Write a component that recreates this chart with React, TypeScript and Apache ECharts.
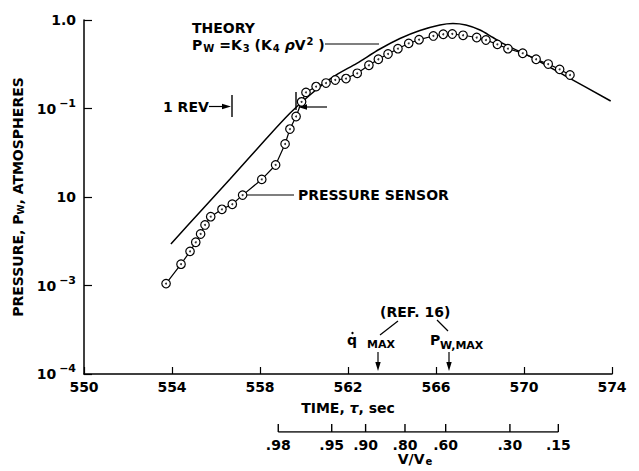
import React, { useEffect, useRef } from "react";
import * as echarts from "echarts";

const FONT = '"DejaVu Sans", "Liberation Sans", sans-serif';

// Pressure sensor measurements (time s, pressure atm)
const sensorTime = [553.73, 554.41, 554.82, 555.08, 555.3, 555.5, 555.76, 556.27, 556.74, 557.21, 558.08, 558.71, 559.14, 559.36, 559.64, 559.89, 560.09, 560.55, 561.0, 561.42, 561.91, 562.42, 562.95, 563.38, 563.82, 564.27, 564.76, 565.23, 565.88, 566.33, 566.74, 567.23, 567.85, 568.27, 568.79, 569.27, 569.94, 570.55, 571.1, 571.62, 572.09];
const sensorP = [0.00105, 0.00174, 0.00243, 0.00308, 0.00382, 0.00483, 0.00599, 0.00726, 0.00828, 0.0105, 0.0158, 0.023, 0.0397, 0.0586, 0.0812, 0.119, 0.152, 0.177, 0.194, 0.21, 0.218, 0.25, 0.308, 0.36, 0.413, 0.474, 0.545, 0.599, 0.66, 0.69, 0.695, 0.672, 0.634, 0.594, 0.531, 0.474, 0.421, 0.36, 0.318, 0.277, 0.239];

// Theory curve
const theoryTime = [553.95, 555.27, 556.64, 558.23, 559.36, 560.27, 561.32, 562.4, 563.45, 564.36, 565.27, 566.18, 566.77, 567.36, 568.0, 568.59, 569.18, 570.41, 571.94, 573.94];
const theoryP = [0.00294, 0.00677, 0.016, 0.0441, 0.0883, 0.142, 0.227, 0.324, 0.47, 0.618, 0.761, 0.878, 0.913, 0.878, 0.771, 0.634, 0.522, 0.372, 0.229, 0.1216];

// Secondary V/Ve scale: tick positions on the time axis and labels
const vveTime = [558.83, 561.26, 562.8, 564.59, 566.44, 569.36, 571.56];
const vveLabels = [".98", ".95", ".90", ".80", ".60", ".30", ".15"];

// Y tick labels by decade exponent
const yTickText: Record<string, string> = {
  "0": "{b|1.0}",
  "-1": "{b|10}{s|−1}",
  "-2": "{b|10}",
  "-3": "{b|10}{s|−3}",
  "-4": "{b|10}{s|−4}",
};

const txt = (text: string, x: number, y: number, size = 14, extra: any = {}) => ({
  type: "text",
  style: {
    text,
    x,
    y,
    font: `bold ${size}px ${FONT}`,
    fill: "#000",
    verticalAlign: "middle",
    ...extra,
  },
});
const ln = (x1: number, y1: number, x2: number, y2: number, w = 1.2) => ({
  type: "line",
  shape: { x1, y1, x2, y2 },
  style: { stroke: "#000", lineWidth: w },
});
const tri = (pts: number[][]) => ({
  type: "polygon",
  shape: { points: pts },
  style: { fill: "#000" },
});

export default function App() {
  const ref = useRef<HTMLDivElement>(null);
  useEffect(() => {
    document.body.style.margin = "0";
    const chart = echarts.init(ref.current!, undefined, { renderer: "svg" });
    const sensorData = sensorTime.map((t, i) => [t, sensorP[i]]);
    const theoryData = theoryTime.map((t, i) => [t, theoryP[i]]);
    const option: any = {
      animation: false,
      backgroundColor: "#fff",
      grid: [
        { left: 84, right: 27, top: 20, bottom: 97, outerBoundsMode: "none" },
        { left: 84, right: 27, top: 420, height: 12, outerBoundsMode: "none" },
      ],
      xAxis: [
        {
          type: "value",
          gridIndex: 0,
          min: 550,
          max: 574,
          interval: 4,
          axisLine: { lineStyle: { color: "#000", width: 1.5 } },
          axisTick: { inside: true, length: 7, lineStyle: { color: "#000", width: 1.2 } },
          axisLabel: { color: "#000", fontFamily: FONT, fontWeight: "bold", fontSize: 14, margin: 6 },
          splitLine: { show: false },
          name: "TIME, {t|τ}, sec",
          nameLocation: "middle",
          nameGap: 27,
          nameTextStyle: {
            color: "#000",
            fontFamily: FONT,
            fontWeight: "bold",
            fontSize: 14,
            rich: { t: { fontFamily: FONT, fontStyle: "italic", fontWeight: "bold", fontSize: 14, color: "#000" } },
          },
        },
        { type: "value", gridIndex: 1, min: 550, max: 574, show: false },
      ],
      yAxis: [
        {
          type: "log",
          gridIndex: 0,
          logBase: 10,
          min: 0.0001,
          max: 1,
          axisLine: { show: true, lineStyle: { color: "#000", width: 1.5 } },
          axisTick: { show: true, inside: true, length: 8, lineStyle: { color: "#000", width: 1.2 } },
          minorTick: { show: false },
          splitLine: { show: false },
          axisLabel: {
            margin: 8,
            formatter: (v: number) => yTickText[String(Math.round(Math.log10(v)))] || "",
            rich: {
              b: { fontFamily: FONT, fontWeight: "bold", fontSize: 14, color: "#000" },
              s: { fontFamily: FONT, fontWeight: "bold", fontSize: 11, color: "#000", padding: [0, 0, 11, 3] },
            },
          },
          name: "PRESSURE, P{w|W}, ATMOSPHERES",
          nameLocation: "middle",
          nameRotate: 90,
          nameGap: 54,
          nameTextStyle: {
            color: "#000",
            fontFamily: FONT,
            fontWeight: "bold",
            fontSize: 14,
            rich: { w: { fontFamily: FONT, fontWeight: "bold", fontSize: 9, color: "#000", padding: [6, 0, 0, 0] } },
          },
        },
        { type: "value", gridIndex: 1, min: 0, max: 1, show: false },
      ],
      series: [
        {
          name: "Theory",
          type: "line",
          xAxisIndex: 0,
          yAxisIndex: 0,
          data: theoryData,
          smooth: 0.3,
          showSymbol: false,
          lineStyle: { color: "#000", width: 1.5 },
          z: 2,
        },
        {
          name: "Pressure sensor",
          type: "line",
          xAxisIndex: 0,
          yAxisIndex: 0,
          data: sensorData,
          symbol: "circle",
          symbolSize: 8.5,
          itemStyle: { color: "#fff", borderColor: "#000", borderWidth: 1.2 },
          lineStyle: { color: "#000", width: 1.2 },
          z: 3,
        },
        {
          name: "Sensor dots",
          type: "scatter",
          xAxisIndex: 0,
          yAxisIndex: 0,
          data: sensorData,
          symbolSize: 2,
          itemStyle: { color: "#000" },
          z: 4,
        },
        {
          name: "V/Ve scale",
          type: "line",
          xAxisIndex: 1,
          yAxisIndex: 1,
          data: vveTime.map((t) => [t, 0]),
          symbol: "rect",
          symbolSize: [1.4, 8],
          symbolOffset: [0, -4],
          itemStyle: { color: "#000" },
          lineStyle: { color: "#000", width: 1.3 },
          label: {
            show: true,
            position: "bottom",
            distance: 6,
            formatter: (p: any) => vveLabels[p.dataIndex],
            fontFamily: FONT,
            fontWeight: "bold",
            fontSize: 14,
            color: "#000",
          },
        },
      ],
      graphic: [
        txt("THEORY", 192, 28),
        {
          type: "text",
          style: {
            text: "P{s|W} =K{s|3} (K{s|4} {r|ρ}V{u|2} )",
            x: 192,
            y: 45,
            font: `bold 14px ${FONT}`,
            fill: "#000",
            verticalAlign: "middle",
            rich: {
              s: { font: `bold 10px ${FONT}`, fill: "#000", padding: [7, 0, 0, 1] },
              u: { font: `bold 10px ${FONT}`, fill: "#000", padding: [0, 0, 8, 1] },
              r: { font: `bold italic 14px ${FONT}`, fill: "#000" },
            },
          },
        },
        ln(325, 44, 379, 44),
        txt("1 REV", 163, 106.5),
        ln(209, 106.5, 224, 106.5),
        tri([[231, 106.5], [222, 103.8], [222, 109.2]]),
        ln(232, 95, 232, 117, 1.4),
        ln(296, 92, 296, 110, 1.4),
        ln(306, 107, 327, 107),
        tri([[298, 107], [307, 104.3], [307, 109.7]]),
        ln(247, 195, 294, 195),
        txt("PRESSURE SENSOR", 298, 195),
        txt("(REF. 16)", 380, 312),
        ln(398, 321, 380, 335),
        ln(437, 320, 448, 331),
        txt("q", 347, 340),
        { type: "circle", shape: { cx: 352.5, cy: 333, r: 1.2 }, style: { fill: "#000" } },
        txt("MAX", 367, 344, 11),
        txt("P", 430, 340),
        txt("W,MAX", 440, 345, 11),
        ln(378, 352, 378, 364),
        tri([[378, 371], [375.3, 362], [380.7, 362]]),
        ln(449, 352, 449, 364),
        tri([[449, 371], [446.3, 362], [451.7, 362]]),
        {
          type: "text",
          style: {
            text: "V/V{s|e}",
            x: 415,
            y: 459,
            font: `bold 14px ${FONT}`,
            fill: "#000",
            align: "center",
            verticalAlign: "middle",
            rich: { s: { font: `bold 10px ${FONT}`, fill: "#000", padding: [5, 0, 0, 1] } },
          },
        },
      ],
    };
    chart.setOption(option);
    return () => chart.dispose();
  }, []);
  return <div ref={ref} style={{ width: 639, height: 471 }} />;
}
